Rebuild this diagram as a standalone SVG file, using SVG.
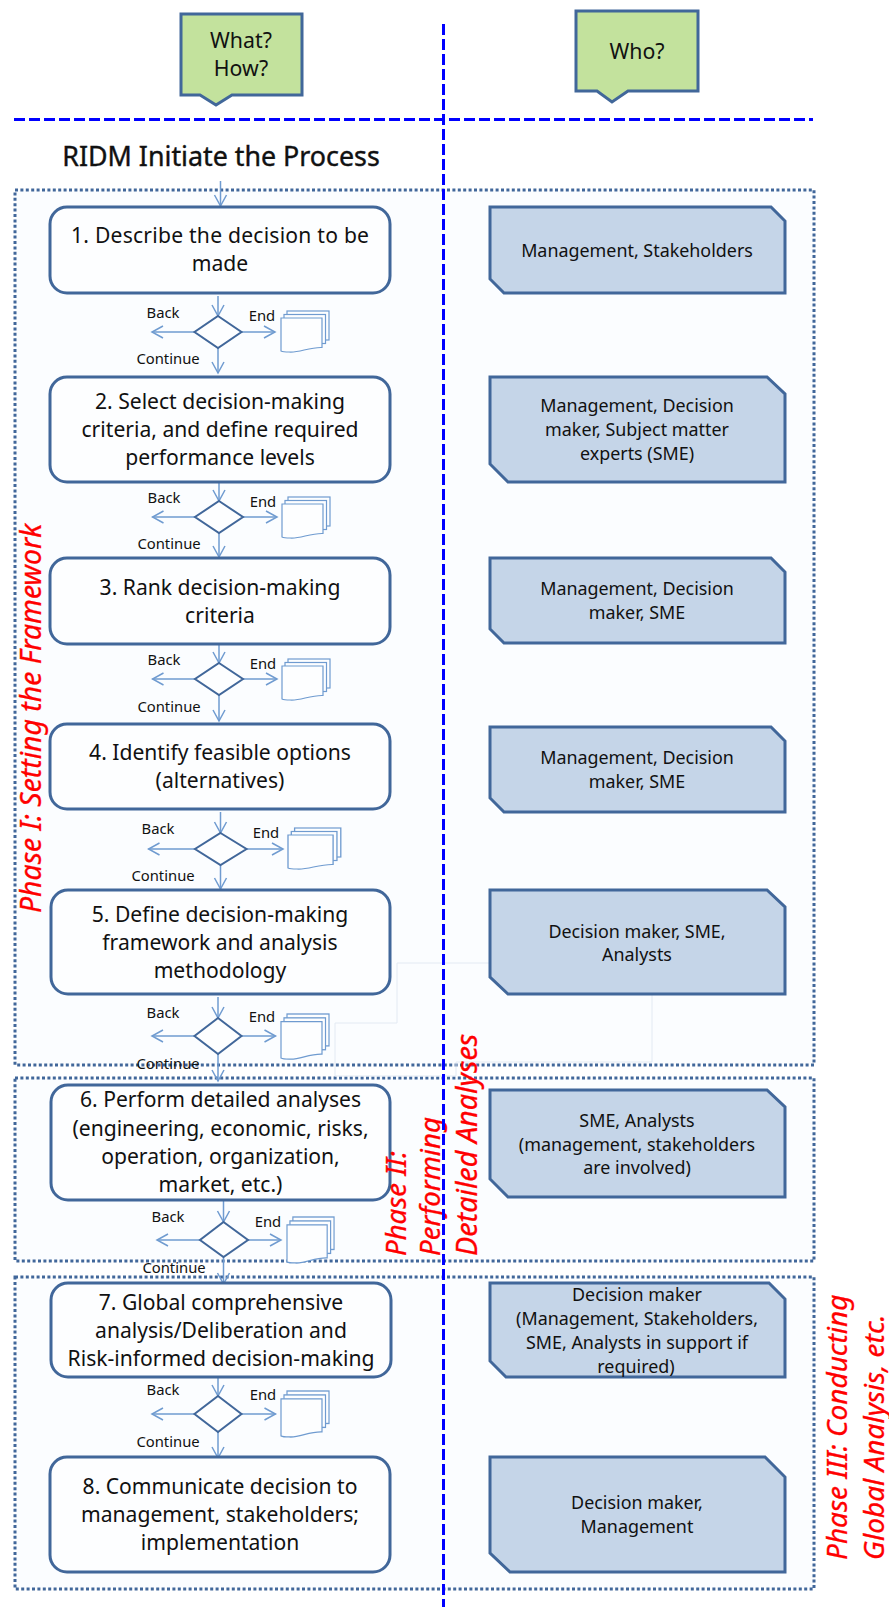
<svg xmlns="http://www.w3.org/2000/svg" xmlns:xlink="http://www.w3.org/1999/xlink" width="889" height="1607" viewBox="0 0 889 1607">
<style>
text{font-family:"Noto Sans","DejaVu Sans",sans-serif;fill:#111;text-anchor:middle}
.frame{fill:#fbfdff;stroke:#41679a;stroke-width:3;stroke-dasharray:3 2.4}
.blue{stroke:#0000ff;stroke-width:3;stroke-dasharray:11 4;fill:none}
.faint{fill:none;stroke:#e3eaf3;stroke-width:1}
.step{fill:#fdfeff;stroke:#41679a;stroke-width:3}
.who{fill:#c5d5e8;stroke:#41679a;stroke-width:3}
.q{fill:#c3e29d;stroke:#41679a;stroke-width:3}
.dia{fill:#fdfeff;stroke:#41679a;stroke-width:2}
.cn{fill:none;stroke:#6f9bd0;stroke-width:1.5;marker-end:url(#arrow)}
.ds{fill:#fdfeff;stroke:#6f9bd0;stroke-width:1.2}
.t{font-size:21.100px}
.w{font-size:17.900px}
.s{font-size:14.800px}
.q1{font-size:21.300px}
.title{font-size:26.800px;stroke:#111;stroke-width:.4}
.ph{font-size:28.800px;font-style:italic;fill:#ff0000;text-anchor:start;stroke:#ff0000;stroke-width:.3}
.ph1{font-size:28.400px}
.ph2{font-size:27.600px}
.ph3{font-size:28px}
</style>
<defs>
<marker id="arrow" markerUnits="userSpaceOnUse" markerWidth="14" markerHeight="16" refX="12" refY="7" orient="auto"><path d="M1,1 L12,7 L1,13" fill="none" stroke="#6f9bd0" stroke-width="1.5"/></marker>
<g id="doc"><rect class="ds" x="6" y="0" width="42" height="29"/><rect class="ds" x="3" y="3.5" width="41.5" height="29"/><path class="ds" d="M0,7 H41 V36.5 C28,36 18,42 8,41 C4,41 2,41 0,40 Z"/></g>
</defs>
<g id="frames">
<rect class="frame" x="15" y="190" width="799" height="875"/>
<rect class="frame" x="15" y="1078" width="799" height="183"/>
<rect class="frame" x="15" y="1277" width="799" height="312"/>
</g>
<path id="faint-outline" class="faint" d="M397,963 V1023 H335 V1076 H456 V1062 H652 V963 Z"/>
<g id="connectors">
<path class="cn" d="M220.500,181 V206"/>
<path class="cn" d="M218,296 V316"/><path class="cn" d="M195,332 H152"/><path class="cn" d="M242,332 H275"/><path class="cn" d="M218,348 V373"/>
<path class="cn" d="M219,482 V501"/><path class="cn" d="M195,517 H152.500"/><path class="cn" d="M243,517 H277"/><path class="cn" d="M219,533 V557"/>
<path class="cn" d="M219,644 V663"/><path class="cn" d="M195,679 H152.500"/><path class="cn" d="M243,679 H277"/><path class="cn" d="M219,695 V721"/>
<path class="cn" d="M220.500,812 V833"/><path class="cn" d="M195,849 H148.500"/><path class="cn" d="M246,849 H283"/><path class="cn" d="M220.500,865 V889"/>
<path class="cn" d="M218,997 V1018"/><path class="cn" d="M194.500,1036 H152"/><path class="cn" d="M241.500,1036 H275.500"/><path class="cn" d="M218,1054 V1081"/>
<path class="cn" d="M223.500,1201 V1222"/><path class="cn" d="M200,1240 H157"/><path class="cn" d="M248,1240 H281"/><path class="cn" d="M223.500,1257 V1284"/>
<path class="cn" d="M218,1375 V1396"/><path class="cn" d="M194.500,1414 H152"/><path class="cn" d="M241.500,1414 H275.500"/><path class="cn" d="M218,1432 V1458"/>
</g>
<g id="q-what"><path class="q" d="M181,14 H302 V95 H232 L216,105 L200,95 H181 Z"/><text class="q1" x="241" y="48">What?</text><text class="q1" x="241" y="76">How?</text></g>
<g id="q-who"><path class="q" d="M576,11 H698 V91 H628 L612,102 L597,91 H576 Z"/><text class="q1" x="637" y="59">Who?</text></g>
<text id="title" class="title" x="221" y="166">RIDM Initiate the Process</text>
<g id="n1"><rect class="step" x="50" y="207" width="340" height="86" rx="17"/><text class="t" x="220" y="243" textLength="298">1. Describe the decision to be</text><text class="t" x="220" y="271">made</text></g>
<g id="n2"><rect class="step" x="50" y="377" width="340" height="105" rx="17"/><text class="t" x="220" y="409">2. Select decision-making</text><text class="t" x="220" y="437">criteria, and define required</text><text class="t" x="220" y="465">performance levels</text></g>
<g id="n3"><rect class="step" x="50" y="558" width="340" height="86" rx="17"/><text class="t" x="220" y="595">3. Rank decision-making</text><text class="t" x="220" y="623">criteria</text></g>
<g id="n4"><rect class="step" x="50" y="724" width="340" height="85" rx="17"/><text class="t" x="220" y="760">4. Identify feasible options</text><text class="t" x="220" y="788">(alternatives)</text></g>
<g id="n5"><rect class="step" x="51" y="890" width="339" height="104" rx="17"/><text class="t" x="220" y="922">5. Define decision-making</text><text class="t" x="220" y="950">framework and analysis</text><text class="t" x="220" y="978">methodology</text></g>
<g id="n6"><rect class="step" x="51" y="1085" width="339" height="115" rx="17"/><text class="t" x="220.500" y="1107">6. Perform detailed analyses</text><text class="t" x="220.500" y="1136">(engineering, economic, risks,</text><text class="t" x="220.500" y="1164">operation, organization,</text><text class="t" x="220.500" y="1192">market, etc.)</text></g>
<g id="n7"><rect class="step" x="51" y="1283" width="340" height="94" rx="17"/><text class="t" x="221" y="1310">7. Global comprehensive</text><text class="t" x="221" y="1338">analysis/Deliberation and</text><text class="t" x="221" y="1366">Risk-informed decision-making</text></g>
<g id="n8"><rect class="step" x="50" y="1457" width="340" height="115" rx="17"/><text class="t" x="220" y="1494">8. Communicate decision to</text><text class="t" x="220" y="1522">management, stakeholders;</text><text class="t" x="220" y="1550">implementation</text></g>
<g id="d1"><path class="dia" d="M218,316 L241.500,332 L218,348 L194.500,332 Z"/><use href="#doc" transform="translate(281,311)"/><text class="s" x="163" y="318">Back</text><text class="s" x="262" y="321">End</text><text class="s" x="168" y="364">Continue</text></g>
<g id="d2"><path class="dia" d="M219,501 L243,517 L219,533 L195,517 Z"/><use href="#doc" transform="translate(282,497)"/><text class="s" x="164" y="503">Back</text><text class="s" x="263" y="507">End</text><text class="s" x="169" y="549">Continue</text></g>
<g id="d3"><path class="dia" d="M219,663 L243,679 L219,695 L195,679 Z"/><use href="#doc" transform="translate(282,659)"/><text class="s" x="164" y="665">Back</text><text class="s" x="263" y="669">End</text><text class="s" x="169" y="712">Continue</text></g>
<g id="d4"><path class="dia" d="M220.500,833 L246.500,849 L220.500,865 L195,849 Z"/><use href="#doc" transform="translate(288,828) scale(1.1,1)"/><text class="s" x="158" y="834">Back</text><text class="s" x="266" y="838">End</text><text class="s" x="163" y="881">Continue</text></g>
<g id="d5"><path class="dia" d="M218,1018 L241.500,1036 L218,1054 L194.500,1036 Z"/><use href="#doc" transform="translate(281,1014) scale(1,1.1)"/><text class="s" x="163" y="1018">Back</text><text class="s" x="262" y="1022">End</text><text class="s" x="168" y="1069">Continue</text></g>
<g id="d6"><path class="dia" d="M223.500,1222 L248,1240 L223.500,1257 L200,1240 Z"/><use href="#doc" transform="translate(287,1217) scale(0.98,1.12)"/><text class="s" x="168" y="1222">Back</text><text class="s" x="268" y="1227">End</text><text class="s" x="174" y="1273">Continue</text></g>
<g id="d7"><path class="dia" d="M218,1396 L241.500,1414 L218,1432 L194.500,1414 Z"/><use href="#doc" transform="translate(281,1391) scale(1,1.12)"/><text class="s" x="163" y="1395">Back</text><text class="s" x="263" y="1400">End</text><text class="s" x="168" y="1447">Continue</text></g>
<g id="r1"><path class="who" d="M490,207 H771 L785,221 V293 H504 L490,279 Z"/><text class="w" x="637" y="257">Management, Stakeholders</text></g>
<g id="r2"><path class="who" d="M490,377 H767 L785,394 V482 H508 L490,464 Z"/><text class="w" x="637" y="412">Management, Decision</text><text class="w" x="637" y="436">maker, Subject matter</text><text class="w" x="637" y="460">experts (SME)</text></g>
<g id="r3"><path class="who" d="M490,558 H771 L785,572 V643 H504 L490,629 Z"/><text class="w" x="637" y="595">Management, Decision</text><text class="w" x="637" y="619">maker, SME</text></g>
<g id="r4"><path class="who" d="M490,727 H771 L785,741 V812 H504 L490,798 Z"/><text class="w" x="637" y="764">Management, Decision</text><text class="w" x="637" y="788">maker, SME</text></g>
<g id="r5"><path class="who" d="M490,890 H767 L785,907 V994 H508 L490,977 Z"/><text class="w" x="637" y="938">Decision maker, SME,</text><text class="w" x="637" y="961">Analysts</text></g>
<g id="r6"><path class="who" d="M490,1090 H767 L785,1107 V1197 H508 L490,1179 Z"/><text class="w" x="637" y="1127">SME, Analysts</text><text class="w" x="637" y="1151">(management, stakeholders</text><text class="w" x="637" y="1174">are involved)</text></g>
<g id="r7"><path class="who" d="M490,1283 H769 L785,1299 V1377 H506 L490,1361 Z"/><text class="w" x="637" y="1301">Decision maker</text><text class="w" x="637" y="1325">(Management, Stakeholders,</text><text class="w" x="637" y="1349">SME, Analysts in support if</text><text class="w" x="636" y="1373">required)</text></g>
<g id="r8"><path class="who" d="M490,1457 H765 L785,1477 V1572 H510 L490,1553 Z"/><text class="w" x="637" y="1509">Decision maker,</text><text class="w" x="637" y="1533">Management</text></g>
<g id="phases">
<text class="ph ph1" transform="translate(41,913) rotate(-90)">Phase I: Setting the Framework</text>
<text class="ph ph2" transform="translate(406,1256) rotate(-90)">Phase II:</text>
<text class="ph ph2" transform="translate(440,1256) rotate(-90)">Performing</text>
<text class="ph" transform="translate(477,1256) rotate(-90)">Detailed Analyses</text>
<text class="ph ph3" transform="translate(847,1560) rotate(-90)">Phase III: Conducting</text>
<text class="ph ph3" transform="translate(884,1560) rotate(-90)">Global Analysis, etc.</text>
</g>
<g id="dividers">
<path class="blue" d="M14,119.500 H813"/>
<path class="blue" d="M443.500,24 V1607"/>
</g>
</svg>
